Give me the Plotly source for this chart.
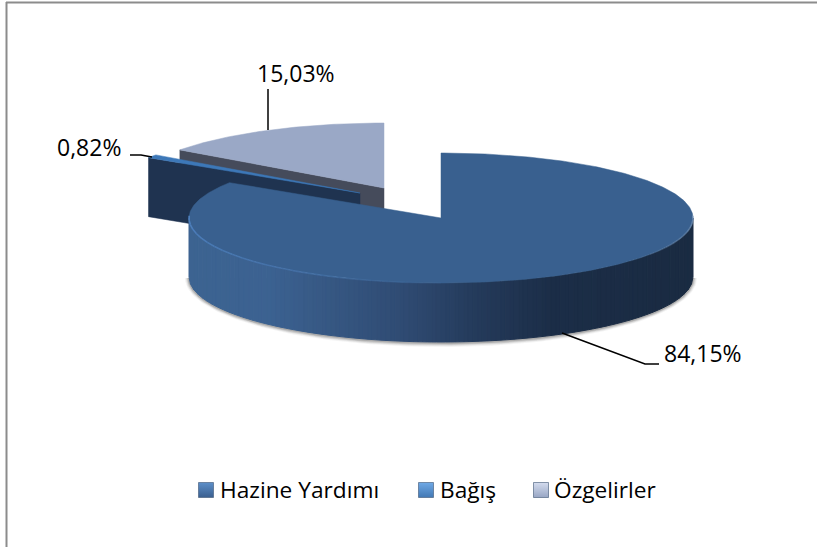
import numpy as np
import plotly.graph_objects as go

# ---- data ----
categories = ["Hazine Yardımı", "Bağış", "Özgelirler"]
shares = [84.15, 0.82, 15.03]
value_labels = ["84,15%", "0,82%", "15,03%"]

# ---- styling / geometry ----
W, H = 817, 547
RX, RY, DEPTH = 252, 65, 59
centres = [(441, 218), (360, 193), (384, 188)]
top_cols = ["#39608f", "#3d78b8", "#9aa8c6"]
wall_cols = [None, "#1f3350", "#454b5b"]
FONT = "Open Sans"
FS = 23
legend_x = [206, 426, 541]
legend_text_x = [220, 440, 554]
LEGEND_Y = 490

fr = np.array(shares) / sum(shares)
edges = np.concatenate([[0], np.cumsum(fr)]) * 360


def pt(c, deg, dy=0.0):
    t = np.radians(deg)
    return c[0] + RX * np.sin(t), c[1] - RY * np.cos(t) + dy


fig = go.Figure()


def poly(x, y, color, line=0, lc=None):
    fig.add_trace(go.Scatter(
        x=list(x), y=list(y), mode="lines", fill="toself", fillcolor=color,
        line=dict(width=line, color=lc or color), hoverinfo="skip", showlegend=False))


def sector(i):
    c = centres[i]
    th = np.linspace(edges[i], edges[i + 1], max(6, int((edges[i + 1] - edges[i]) * 1.5)))
    x, y = pt(c, th)
    poly(np.r_[c[0], x, c[0]], np.r_[c[1], y, c[1]], top_cols[i], 0.5)


def cut_wall(i, deg):
    c = centres[i]
    x, y = pt(c, deg)
    poly([c[0], x, x, c[0], c[0]],
         [c[1], y, y + DEPTH, c[1] + DEPTH, c[1]], wall_cols[i], 0.5)


# exploded slices, back to front
cut_wall(2, edges[2])
sector(2)
cut_wall(1, edges[1])
sector(1)

# soft shadow under the main slice
c0 = centres[0]
for grow, alpha in [(4, 0.06), (3, 0.10), (2, 0.16), (1, 0.22)]:
    th = np.linspace(90, 270, 120)
    x = c0[0] + (RX + grow) * np.sin(th * np.pi / 180)
    y = c0[1] + DEPTH - (RY + grow) * np.cos(th * np.pi / 180) + 1
    poly(x, y, f"rgba(70,70,70,{alpha})")

# rounded wall of the main slice, shaded strip by strip
stops_t = [0.0, 0.16, 0.42, 0.58, 0.72, 1.0]
stops_c = np.array([[60, 100, 146], [60, 98, 145], [48, 76, 116], [36, 58, 90], [28, 46, 72], [26, 43, 66]])
N = 110
xs_edge = np.linspace(-1, 1, N + 1)
for k in range(N):
    a, b = xs_edge[k], xs_edge[k + 1]
    xx = np.linspace(a, b, 4)
    deg = 180 - np.degrees(np.arcsin(xx))
    x, y = pt(c0, deg)
    col = [np.interp((a + b + 2) / 4, stops_t, stops_c[:, j]) for j in range(3)]
    col = "rgb(%d,%d,%d)" % tuple(col)
    poly(np.r_[x, x[::-1], x[0]], np.r_[y, y[::-1] + DEPTH, y[0]], col, 1.0)

sector(0)

# bevel highlight on the front edge of the top face, fading along the arc
th_hi = np.linspace(272, 180, 24)
for k in range(len(th_hi) - 1):
    x, y = pt(c0, np.linspace(th_hi[k], th_hi[k + 1], 6))
    fade = 1 - 0.9 * k / (len(th_hi) - 2)
    fig.add_trace(go.Scatter(x=x, y=y, mode="lines",
                             line=dict(color=f"rgba(78,128,190,{fade:.2f})", width=1.6),
                             hoverinfo="skip", showlegend=False))
th_hi = np.linspace(88, 135, 14)
for k in range(len(th_hi) - 1):
    x, y = pt(c0, np.linspace(th_hi[k], th_hi[k + 1], 6))
    fade = 0.75 * (1 - k / (len(th_hi) - 2))
    fig.add_trace(go.Scatter(x=x, y=y, mode="lines",
                             line=dict(color=f"rgba(120,150,185,{fade:.2f})", width=1.6),
                             hoverinfo="skip", showlegend=False))

# leader lines
leaders = [
    ([562, 645, 659], [333, 364, 364]),
    ([130, 141, 152], [155, 155, 157]),
    ([268, 268], [89, 130]),
]
for lx, ly in leaders:
    fig.add_trace(go.Scatter(x=lx, y=ly, mode="lines", line=dict(color="#000000", width=1.5),
                             hoverinfo="skip", showlegend=False))

# value labels
label_pos = [(703, 353), (89, 146.5), (296, 72.5)]
for (lx, ly), txt in zip(label_pos, value_labels):
    fig.add_annotation(x=lx, y=ly, text=txt, showarrow=False, xanchor="center", yanchor="middle",
                       font=dict(family=FONT, size=FS, color="#000000"))

# legend row
legend_cols = ["#3a5f8f", "#4278b4", "#98a6c4"]
legend_light = ["#5d8fc9", "#6fa9e6", "#d4dcee"]
for lx, tx, name, col, li in zip(legend_x, legend_text_x, categories, legend_cols, legend_light):
    fig.add_trace(go.Scatter(
        x=[lx], y=[LEGEND_Y], mode="markers", name=name,
        marker=dict(symbol="square", size=15, color=li, gradient=dict(type="vertical", color=col),
                    line=dict(color="#3c5474", width=0.6)),
        hoverinfo="skip", showlegend=False, cliponaxis=False))
    fig.add_annotation(x=tx, y=LEGEND_Y - 1, text=name, showarrow=False, xanchor="left", yanchor="middle",
                       xshift=-2, font=dict(family=FONT, size=FS - 0.3, color="#000000"))

fig.update_layout(
    width=W, height=H, margin=dict(l=0, r=0, t=0, b=0),
    paper_bgcolor="#ffffff", plot_bgcolor="#ffffff", showlegend=False,
    xaxis=dict(range=[0, W], visible=False, fixedrange=True),
    yaxis=dict(range=[H, 0], visible=False, fixedrange=True),
    shapes=[
        dict(type="line", xref="x", yref="y", x0=6.5, x1=6.5, y0=2, y1=H, line=dict(color="#8c8c8c", width=2)),
        dict(type="line", xref="x", yref="y", x0=6, x1=W, y0=2.5, y1=2.5, line=dict(color="#8c8c8c", width=2)),
    ],
)
fig.write_html("out.html", config=dict(displayModeBar=False),
               post_script="document.body.style.margin='0';document.documentElement.style.overflow='hidden';")
